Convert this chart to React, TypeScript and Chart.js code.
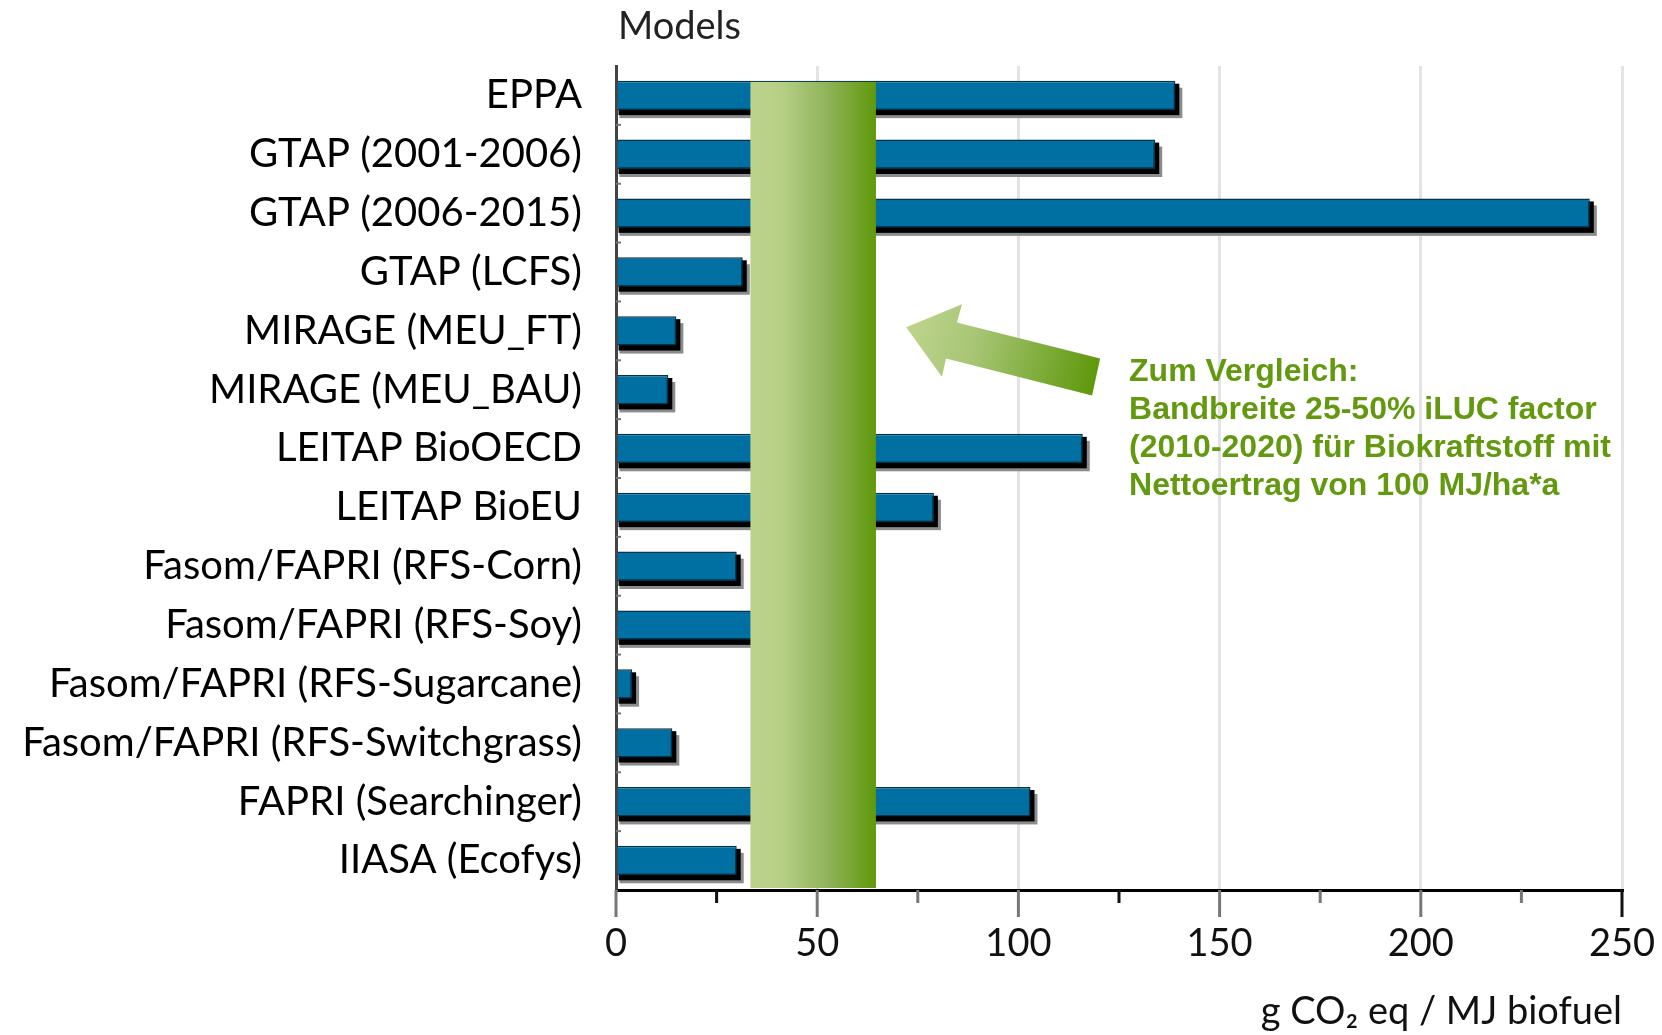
import React, { useEffect, useRef } from "react";
import { Chart, registerables } from "chart.js";

Chart.register(...registerables);

const categories = [
  "EPPA",
  "GTAP (2001-2006)",
  "GTAP (2006-2015)",
  "GTAP (LCFS)",
  "MIRAGE (MEU_FT)",
  "MIRAGE (MEU_BAU)",
  "LEITAP BioOECD",
  "LEITAP BioEU",
  "Fasom/FAPRI (RFS-Corn)",
  "Fasom/FAPRI (RFS-Soy)",
  "Fasom/FAPRI (RFS-Sugarcane)",
  "Fasom/FAPRI (RFS-Switchgrass)",
  "FAPRI (Searchinger)",
  "IIASA (Ecofys)",
];
const values = [139, 134, 242, 31.5, 15, 13, 116, 79, 30, 45, 4, 14, 103, 30];

const bandRange = [33.4, 64.6];
// arrow outline in data units: [x value, category index]
const arrowPoints = [
  [72.1, 3.94],
  [86.0, 3.55],
  [84.7, 3.86],
  [120.3, 4.47],
  [118.3, 5.1],
  [82.0, 4.47],
  [81.0, 4.78],
];
const noteLines = [
  "Zum Vergleich:",
  "Bandbreite 25-50% iLUC factor",
  "(2010-2020) für Biokraftstoff mit",
  "Nettoertrag von 100 MJ/ha*a",
];
const noteAnchor = [127.5, 4.7];
const noteStep = 0.645;
const xTitle = "g CO\u2082 eq / MJ biofuel";
const yTitle = "Models";

const FONT = "Lato, 'Open Sans', sans-serif";

const decorPlugin = {
  id: "decor",
  beforeDatasetsDraw(chart: any) {
    const ctx = chart.ctx;
    const meta = chart.getDatasetMeta(0);
    ctx.save();
    meta.data.forEach((el: any) => {
      const h = el.height;
      const top = el.y - h / 2;
      ctx.fillStyle = "#8c8c8c";
      ctx.fillRect(el.base + 2, top + 7, el.x - el.base + 5, h + 1);
      ctx.fillStyle = "#000";
      ctx.fillRect(el.base + 1, top + 3, el.x - el.base + 3, h + 2);
    });
    ctx.restore();
  },
  afterDatasetsDraw(chart: any) {
    const ctx = chart.ctx;
    const xs = chart.scales.x;
    const ys = chart.scales.y;
    const area = chart.chartArea;
    const x0 = xs.getPixelForValue(bandRange[0]);
    const x1 = xs.getPixelForValue(bandRange[1]);
    const top = ys.getPixelForValue(-0.23);
    const bottom = area.bottom - 2;
    const g = ctx.createLinearGradient(x0, 0, x1, 0);
    g.addColorStop(0, "#bdd38c");
    g.addColorStop(0.25, "#b6cf84");
    g.addColorStop(0.6, "#91b45c");
    g.addColorStop(1, "#60990c");
    ctx.save();
    ctx.fillStyle = g;
    ctx.fillRect(x0, top, x1 - x0, bottom - top);
    ctx.restore();
  },
  afterDraw(chart: any) {
    const ctx = chart.ctx;
    const xs = chart.scales.x;
    const ys = chart.scales.y;
    const area = chart.chartArea;
    ctx.save();
    xs.ticks.forEach((t: any) => {
      const px = xs.getPixelForValue(t.value);
      const major = t.value % 50 === 0;
      ctx.strokeStyle = t.value === 250 || t.value === 25 || t.value === 125 ? "#111" : "#777";
      ctx.lineWidth = 3;
      ctx.beginPath();
      ctx.moveTo(px, area.bottom);
      ctx.lineTo(px, area.bottom + (major ? 27 : 13));
      ctx.stroke();
    });
    ctx.strokeStyle = "#777";
    ctx.lineWidth = 2;
    for (let i = 1; i < categories.length; i++) {
      const py = ys.getPixelForValue(i - 0.5);
      ctx.beginPath();
      ctx.moveTo(area.left, py);
      ctx.lineTo(area.left + 5, py);
      ctx.stroke();
    }
    const pts = arrowPoints.map((p) => [xs.getPixelForValue(p[0]), ys.getPixelForValue(p[1])]);
    const ag = ctx.createLinearGradient(pts[0][0], pts[0][1], (pts[3][0] + pts[4][0]) / 2, (pts[3][1] + pts[4][1]) / 2);
    ag.addColorStop(0, "#bed48d");
    ag.addColorStop(0.35, "#a8c676");
    ag.addColorStop(1, "#5f980c");
    ctx.fillStyle = ag;
    ctx.beginPath();
    pts.forEach((p, i) => (i === 0 ? ctx.moveTo(p[0], p[1]) : ctx.lineTo(p[0], p[1])));
    ctx.closePath();
    ctx.fill();
    ctx.fillStyle = "#62990f";
    ctx.font = "bold 32px 'Liberation Sans', Arial, sans-serif";
    ctx.textAlign = "left";
    ctx.textBaseline = "middle";
    const nx = xs.getPixelForValue(noteAnchor[0]);
    noteLines.forEach((line, i) => {
      ctx.fillText(line, nx, ys.getPixelForValue(noteAnchor[1] + i * noteStep));
    });
    ctx.fillStyle = "#222";
    ctx.font = `38px ${FONT}`;
    ctx.textBaseline = "middle";
    ctx.fillText(yTitle, area.left + 2, 27);
    ctx.restore();
  },
};

export default function App() {
  const ref = useRef<HTMLCanvasElement | null>(null);
  useEffect(() => {
    if (!ref.current) return;
    const chart = new Chart(ref.current, {
      type: "bar",
      data: {
        labels: categories,
        datasets: [
          {
            data: values,
            backgroundColor: "#006fa2",
            borderColor: "#06324a",
            borderWidth: 1.5,
            barPercentage: 0.5,
            categoryPercentage: 1,
          },
        ],
      },
      options: {
        indexAxis: "y",
        animation: false,
        responsive: true,
        maintainAspectRatio: false,
        layout: { padding: { top: 66, right: 40, left: 0, bottom: 0 } },
        plugins: { legend: { display: false }, tooltip: { enabled: false } },
        scales: {
          x: {
            min: 0,
            max: 250,
            ticks: {
              stepSize: 25,
              autoSkip: false,
              maxRotation: 0,
              callback: (v: any) => (Number(v) % 50 === 0 ? String(v) : ""),
              font: { family: FONT, size: 38 },
              color: "#111",
              padding: 31,
            },
            grid: {
              drawTicks: false,
              lineWidth: 3,
              color: (c: any) => (c.tick && c.tick.value % 50 === 0 && c.tick.value > 0 ? "#e3e3e3" : "rgba(0,0,0,0)"),
            },
            border: { color: "#000", width: 3 },
            title: {
              display: true,
              text: xTitle,
              align: "end",
              font: { family: FONT, size: 38 },
              color: "#111",
              padding: 0,
            },
            afterFit: (s: any) => {
              s.height = 145;
              s.paddingLeft = 0;
              s.paddingRight = 0;
            },
          },
          y: {
            ticks: { font: { family: FONT, size: 40 }, color: "#000", padding: 34 },
            grid: { drawTicks: false, color: "rgba(0,0,0,0)" },
            border: { color: "#444", width: 3 },
            afterFit: (s: any) => {
              s.width = 616;
            },
          },
        },
      },
      plugins: [decorPlugin],
    } as any);
    return () => chart.destroy();
  }, []);
  return (
    <div style={{ position: "fixed", left: 0, top: 0, width: 1662, height: 1035, background: "#fff" }}>
      <canvas ref={ref} />
    </div>
  );
}
